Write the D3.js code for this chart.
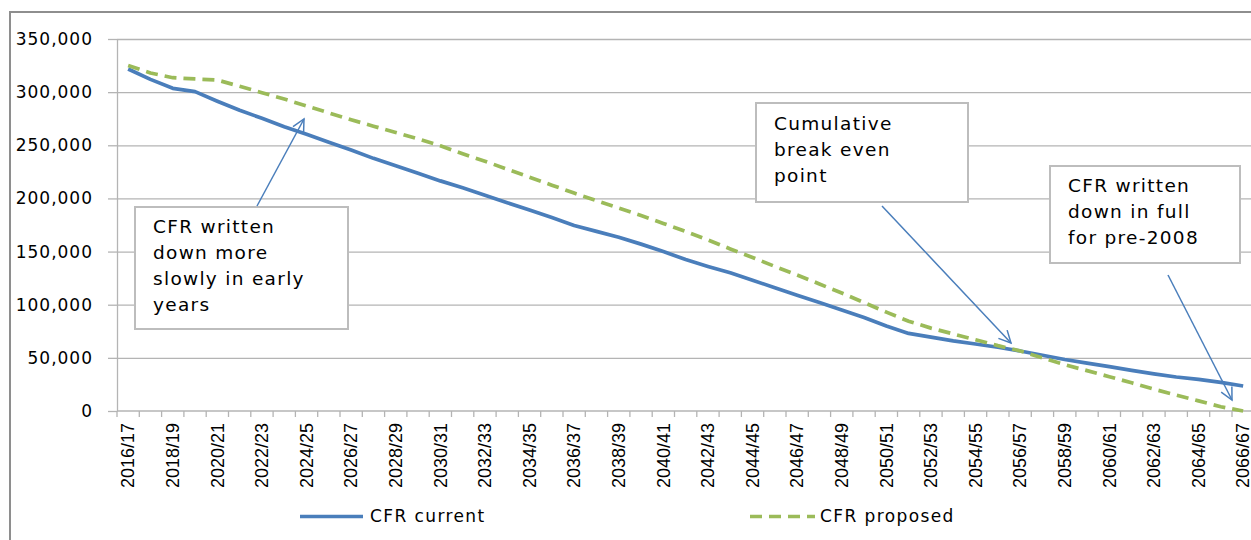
<!DOCTYPE html>
<html>
<head>
<meta charset="utf-8">
<script src="https://cdn.jsdelivr.net/npm/d3@7"></script>
<style>
  body { margin: 0; background: #fff; }
  svg { display: block; }
</style>
</head>
<body>
<script>
"use strict";
(function(){
    // financial years on the x axis
    const years = ["2016/17", "2017/18", "2018/19", "2019/20", "2020/21", "2021/22", "2022/23", "2023/24",
        "2024/25", "2025/26", "2026/27", "2027/28", "2028/29", "2029/30", "2030/31", "2031/32", "2032/33",
        "2033/34", "2034/35", "2035/36", "2036/37", "2037/38", "2038/39", "2039/40", "2040/41", "2041/42",
        "2042/43", "2043/44", "2044/45", "2045/46", "2046/47", "2047/48", "2048/49", "2049/50", "2050/51",
        "2051/52", "2052/53", "2053/54", "2054/55", "2055/56", "2056/57", "2057/58", "2058/59", "2059/60",
        "2060/61", "2061/62", "2062/63", "2063/64", "2064/65", "2065/66", "2066/67"]

    // values
    const cfrCurrent = [321800, 312000, 303600, 300500, 291500, 283000, 275400, 267500, 260300, 252800,
        245600, 237700, 230800, 223600, 216500, 210000, 203000, 196000, 189000, 182000,
        174500, 169000, 163500, 157000, 150000, 142500, 136000, 130000, 123000, 116000,
        109000, 102000, 95000, 88000, 80000, 73000, 69500, 66000, 63000, 60000,
        56500, 52500, 48500, 45000, 41800, 38200, 35000, 32000, 29800, 27000, 23500]

    const cfrProposed = [325000, 318000, 313600, 312400, 311400, 305500, 299500, 293500, 287000, 280500,
        274000, 268000, 262000, 256000, 249500, 242000, 235000, 227500, 220000, 212500,
        205000, 198000, 191000, 184000, 176500, 169000, 161000, 152500, 144500, 136000,
        128000, 119500, 111000, 102000, 93000, 84500, 78000, 72500, 67000, 61500,
        56500, 50000, 43500, 38000, 32300, 26500, 20500, 15000, 9500, 4000, 0]

    const yTicks = [0, 50000, 100000, 150000, 200000, 250000, 300000, 350000]
    const seriesNames = ["CFR current", "CFR proposed"]

    const noteTexts = [
        ["CFR written", "down more", "slowly in early", "years"],
        ["Cumulative", "break even", "point"],
        ["CFR written", "down in full", "for pre-2008"]
    ]

    // layout
    const measurements = { width: 1251, height: 540, left: 117, top: 39, bottom: 411, band: 22.3 }
    const colors = { current: "#4a7ebb", proposed: "#9bbb59", grid: "#b4b4b4", frame: "#8e8e8e" }

    // box and arrow placement for the notes (pixels)
    const noteBoxes = [
        { x: 135, y: 207, w: 213, h: 122, tx: 153, ty: 233, from: [257, 206], to: [304, 119] },
        { x: 756, y: 103, w: 212, h: 99, tx: 774, ty: 130, from: [882, 206], to: [1011, 343] },
        { x: 1050, y: 166, w: 190, h: 97, tx: 1068, ty: 192, from: [1168, 275], to: [1232, 400] }
    ]

    const svg = d3.select("body").append("svg")
        .attr("width", measurements.width)
        .attr("height", measurements.height)

    svg.append("defs").append("marker")
        .attr("id", "open-arrow")
        .attr("markerUnits", "userSpaceOnUse")
        .attr("viewBox", "-14 -8 16 16")
        .attr("refX", 0).attr("refY", 0)
        .attr("markerWidth", 16).attr("markerHeight", 16)
        .attr("orient", "auto")
        .append("path")
        .attr("d", "M-12,-6L0,0L-12,6")
        .attr("fill", "none")
        .attr("stroke", colors.current)
        .attr("stroke-width", 1.5)

    let scaleX = d3.scaleBand()
        .domain(years)
        .range([measurements.left, measurements.left + years.length * measurements.band])

    let scaleY = d3.scaleLinear()
        .domain([0, 350000])
        .range([measurements.bottom, measurements.top])

    const cx = (i) => scaleX(years[i]) + scaleX.bandwidth() / 2

    // outer chart frame
    svg.append("path")
        .attr("d", "M10," + measurements.height + "V12H" + measurements.width)
        .attr("fill", "none")
        .attr("stroke", colors.frame)
        .attr("stroke-width", 2)

    // gridlines
    let grid = svg.append("g")
        .attr("transform", "translate(" + measurements.left + ",0)")
        .call(d3.axisLeft(scaleY)
            .tickValues(yTicks.filter((d) => d > 0))
            .tickSize(-(measurements.width - measurements.left + 10))
            .tickFormat(""))
    grid.select(".domain").remove()
    grid.selectAll("line").attr("stroke", colors.grid).attr("stroke-width", 1.3)

    // y axis
    let yAxis = svg.append("g")
        .attr("transform", "translate(" + measurements.left + ",0)")
        .call(d3.axisLeft(scaleY)
            .tickValues(yTicks)
            .tickSize(9)
            .tickSizeOuter(0)
            .tickPadding(15)
            .tickFormat(d3.format(",")))
    yAxis.select(".domain").attr("stroke", colors.grid).attr("stroke-width", 1.3)
    yAxis.selectAll("line").attr("stroke", colors.grid).attr("stroke-width", 1.3)
    yAxis.selectAll("text")
        .attr("fill", "#000")
        .style("font-family", "'DejaVu Sans', sans-serif")
        .style("font-size", "17px")
        .style("letter-spacing", "1px")

    // x axis line and boundary ticks
    const xEnd = scaleX.range()[1]
    svg.append("line")
        .attr("x1", measurements.left).attr("x2", xEnd)
        .attr("y1", measurements.bottom).attr("y2", measurements.bottom)
        .attr("stroke", colors.grid).attr("stroke-width", 1.3)

    svg.append("g").selectAll("line")
        .data(years.map((d) => scaleX(d)).concat([xEnd]))
        .enter()
        .append("line")
        .attr("x1", (d) => d).attr("x2", (d) => d)
        .attr("y1", measurements.bottom).attr("y2", measurements.bottom + 6)
        .attr("stroke", colors.grid).attr("stroke-width", 1.3)

    // x labels, every other year
    let xAxis = svg.append("g")
        .attr("transform", "translate(0," + measurements.bottom + ")")
        .call(d3.axisBottom(scaleX)
            .tickValues(years.filter((d, i) => i % 2 == 0))
            .tickSize(0))
    xAxis.select(".domain").remove()
    xAxis.selectAll("text")
        .attr("transform", "rotate(-90)")
        .attr("text-anchor", "end")
        .attr("x", -12)
        .attr("y", 0)
        .attr("dy", "0.35em")
        .attr("fill", "#000")
        .style("font-family", "'Liberation Sans', Arial, sans-serif")
        .style("font-size", "18px")

    // series
    const line = d3.line()
        .x((d, i) => cx(i))
        .y((d) => scaleY(d))

    svg.append("path")
        .datum(cfrCurrent)
        .attr("d", line)
        .attr("fill", "none")
        .attr("stroke", colors.current)
        .attr("stroke-width", 3.7)
        .attr("stroke-linejoin", "round")

    svg.append("path")
        .datum(cfrProposed)
        .attr("d", line)
        .attr("fill", "none")
        .attr("stroke", colors.proposed)
        .attr("stroke-width", 3.7)
        .attr("stroke-dasharray", "12,7")

    // note boxes
    noteBoxes.forEach(function(b, k) {
        svg.append("rect")
            .attr("x", b.x).attr("y", b.y)
            .attr("width", b.w).attr("height", b.h)
            .attr("fill", "#fff")
            .attr("stroke", "#bdbdbd")
            .attr("stroke-width", 2)
        svg.append("g").selectAll("text")
            .data(noteTexts[k])
            .enter()
            .append("text")
            .attr("x", b.tx)
            .attr("y", (d, i) => b.ty + i * 26)
            .attr("fill", "#000")
            .style("font-family", "'DejaVu Sans', sans-serif")
            .style("font-size", "18.5px")
            .style("letter-spacing", "1.3px")
            .text((d) => d)
    })

    // arrows
    noteBoxes.forEach(function(b) {
        svg.append("line")
            .attr("x1", b.from[0]).attr("y1", b.from[1])
            .attr("x2", b.to[0]).attr("y2", b.to[1])
            .attr("stroke", colors.current)
            .attr("stroke-width", 1.5)
            .attr("marker-end", "url(#open-arrow)")
    })

    // legend
    const legendItems = [
        { name: seriesNames[0], color: colors.current, dash: null, x1: 300, x2: 363, tx: 370 },
        { name: seriesNames[1], color: colors.proposed, dash: "12,7", x1: 750, x2: 815, tx: 820 }
    ]
    legendItems.forEach(function(l) {
        svg.append("line")
            .attr("x1", l.x1).attr("x2", l.x2)
            .attr("y1", 516.5).attr("y2", 516.5)
            .attr("stroke", l.color)
            .attr("stroke-width", 3.7)
            .attr("stroke-dasharray", l.dash)
        svg.append("text")
            .attr("x", l.tx).attr("y", 522)
            .attr("fill", "#000")
            .style("font-family", "'DejaVu Sans', sans-serif")
            .style("font-size", "17px")
            .style("letter-spacing", "1.4px")
            .text(l.name)
    })
})()
</script>
</body>
</html>
